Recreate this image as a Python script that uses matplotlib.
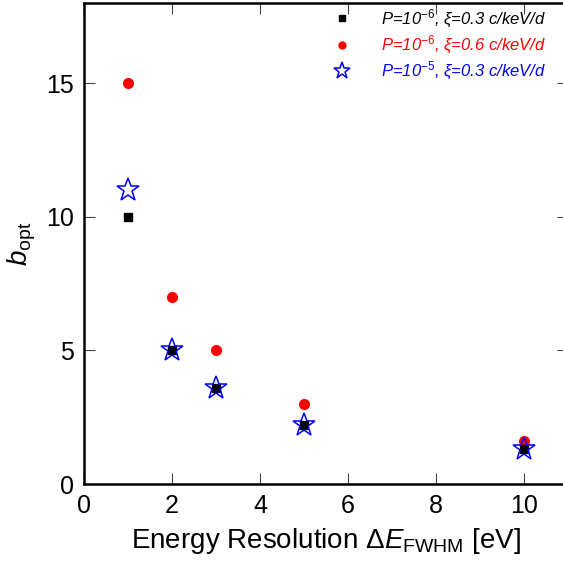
import matplotlib
matplotlib.use("Agg")
import matplotlib.pyplot as plt

plt.rcParams['font.family'] = ['Liberation Sans', 'DejaVu Sans']
plt.rcParams['mathtext.fontset'] = 'custom'
plt.rcParams['mathtext.rm'] = 'Liberation Sans'
plt.rcParams['mathtext.it'] = 'Liberation Sans:italic'
plt.rcParams['mathtext.bf'] = 'Liberation Sans:bold'

# Data
resolution = [1, 2, 3, 5, 10]
b_p6_x03 = [10, 5, 3.6, 2.2, 1.3]
b_p6_x06 = [15, 7, 5, 3, 1.6]
b_p5_x03 = [11, 5, 3.6, 2.2, 1.3]

labels = [r"$P$=10$^{-6}$, ξ=0.3 c/keV/d",
          r"$P$=10$^{-6}$, ξ=0.6 c/keV/d",
          r"$P$=10$^{-5}$, ξ=0.3 c/keV/d"]

fig = plt.figure(figsize=(5.63, 5.63), dpi=100)
# the right edge of the frame runs just past the image, as in the reference
ax = fig.add_axes([0.149, 0.14, 0.86, 0.855])

ax.plot(resolution, b_p6_x03, 's', color='black', markersize=6, label=labels[0], zorder=3)
ax.plot(resolution, b_p6_x06, 'o', color='red', markersize=8, markeredgewidth=0, label=labels[1], zorder=2)
ax.plot(resolution, b_p5_x03, '*', color='blue', markerfacecolor='none', markersize=17,
        markeredgewidth=1.1, label=labels[2], zorder=4)

ax.set_xlim(0, 11)
ax.set_ylim(0, 18)
ax.set_xticks([0, 2, 4, 6, 8, 10])
ax.set_yticks([0, 5, 10, 15])
ax.tick_params(direction='in', top=True, right=True, length=8, width=0.8,
               color='#444444', labelsize=18, pad=7)
for s in ax.spines.values():
    s.set_linewidth(1.8)

ax.set_xlabel(r"Energy Resolution Δ$E_{\mathrm{FWHM}}$ [eV]", fontsize=20, labelpad=6)
ax.set_ylabel(r"$b_{\mathrm{opt}}$", fontsize=20, labelpad=6)

leg = ax.legend(loc='upper right', bbox_to_anchor=(0.969, 1.004), frameon=False, fontsize=12,
                handletextpad=1.6, handlelength=1.5, borderaxespad=0.0, labelspacing=0.25,
                markerscale=0.75)
for txt, c in zip(leg.get_texts(), ['black', 'red', 'blue']):
    txt.set_color(c)
    txt.set_fontstyle('italic')

fig.savefig("out.png", dpi=100)
